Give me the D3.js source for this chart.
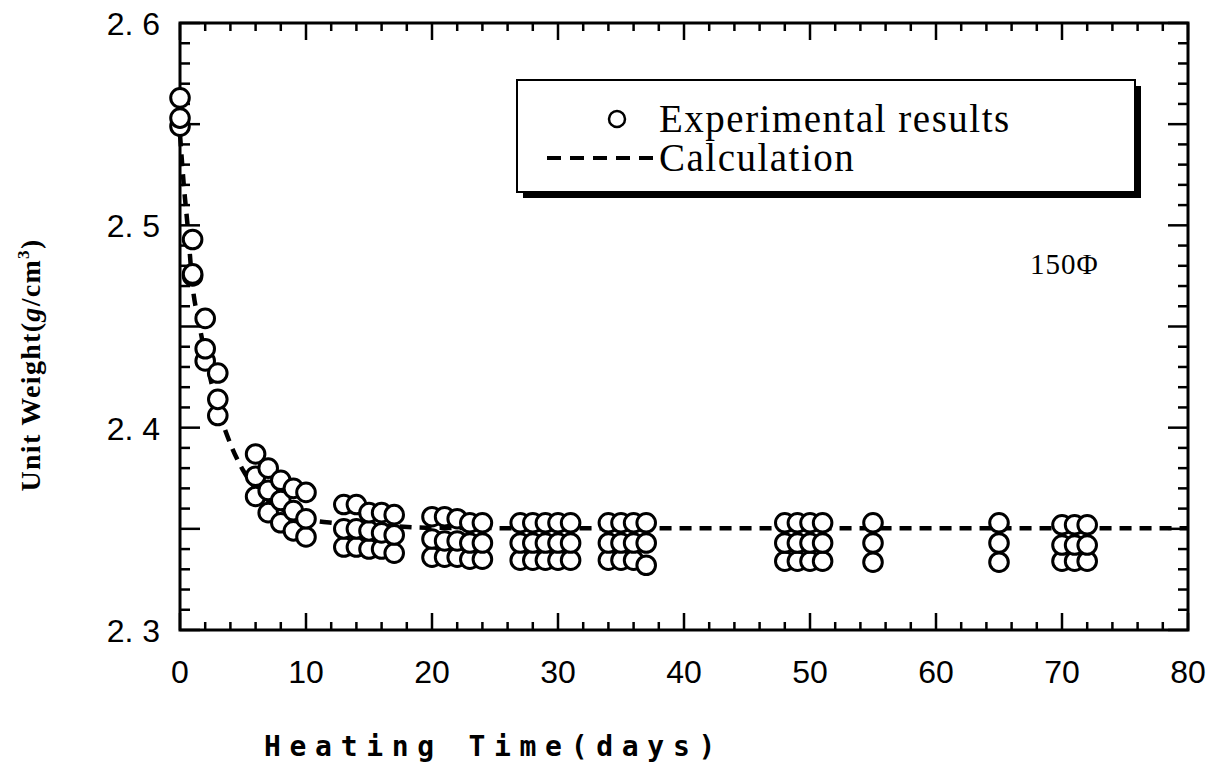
<!DOCTYPE html>
<html lang="en">
<head>
<meta charset="utf-8">
<title>Unit Weight vs Heating Time</title>
<script src="https://d3js.org/d3.v7.min.js"></script>
<style>
  body { margin: 0; background: #fff; }
  .tick-label { font-family: "Liberation Sans", Arial, sans-serif; font-size: 32px; fill: #000; }
  .legend-text { font-family: "Liberation Serif", "Times New Roman", serif; font-size: 39px; letter-spacing: 1.5px; fill: #000; }
</style>
</head>
<body>
<svg width="1217" height="767"></svg>
<script>
// experimental results: three readings per heating day
const expDays   = [0, 1, 2, 3, 6, 7, 8, 9, 10, 13, 14, 15, 16, 17, 20, 21, 22, 23, 24,
                   27, 28, 29, 30, 31, 34, 35, 36, 37, 48, 49, 50, 51, 55, 65, 70, 71, 72];
const expUpper  = [2.563, 2.493, 2.454, 2.427, 2.387, 2.380, 2.374, 2.370, 2.368,
                   2.362, 2.362, 2.358, 2.358, 2.357, 2.356, 2.356, 2.355, 2.353, 2.353,
                   2.353, 2.353, 2.353, 2.353, 2.353, 2.353, 2.353, 2.353, 2.353,
                   2.353, 2.353, 2.353, 2.353, 2.353, 2.353, 2.352, 2.352, 2.352];
const expMiddle = [2.553, 2.476, 2.439, 2.414, 2.376, 2.369, 2.364, 2.359, 2.355,
                   2.350, 2.350, 2.349, 2.348, 2.347, 2.345, 2.344, 2.344, 2.343, 2.343,
                   2.343, 2.343, 2.343, 2.343, 2.343, 2.343, 2.343, 2.343, 2.343,
                   2.343, 2.343, 2.343, 2.343, 2.343, 2.343, 2.342, 2.342, 2.342];
const expLower  = [2.549, 2.475, 2.433, 2.406, 2.366, 2.358, 2.353, 2.349, 2.346,
                   2.341, 2.341, 2.340, 2.340, 2.338, 2.336, 2.336, 2.336, 2.335, 2.335,
                   2.3345, 2.3345, 2.3345, 2.3345, 2.3345, 2.3345, 2.3345, 2.3345, 2.332,
                   2.334, 2.334, 2.334, 2.334, 2.3335, 2.3335, 2.334, 2.334, 2.334];

// calculated curve
const calcDays   = [0, 0.3, 0.6, 1, 1.5, 2, 2.5, 3, 4, 5, 6, 7, 8, 10, 12, 15, 20, 30, 50, 80];
const calcValues = [2.545, 2.52, 2.50, 2.47, 2.452, 2.436, 2.422, 2.410, 2.392, 2.379,
                    2.370, 2.364, 2.360, 2.355, 2.353, 2.352, 2.3505, 2.3503, 2.3503, 2.3503];

// axis ticks
const xTicks = [0, 10, 20, 30, 40, 50, 60, 70, 80];
const xTickLabels = ["0", "10", "20", "30", "40", "50", "60", "70", "80"];
const yTicks = [2.3, 2.4, 2.5, 2.6];
const yTickLabels = ["2. 3", "2. 4", "2. 5", "2. 6"];

const svg = d3.select("svg");
const plotL = 180, plotR = 1188, plotT = 23, plotB = 630;

const x = d3.scaleLinear().domain([0, 80]).range([plotL, plotR]);
const y = d3.scaleLinear().domain([2.3, 2.6]).range([plotB, plotT]);

// inner ticks on all four sides
const xMinor = d3.range(0, 81, 2);
const yMinor = d3.range(0, 31).map(i => 2.3 + i * 0.01);
const tickG = svg.append("g").attr("stroke", "#000").attr("stroke-width", 2.5);

xMinor.forEach(v => {
  const len = (v % 10 === 0) ? 17 : 8;
  tickG.append("line").attr("x1", x(v)).attr("x2", x(v)).attr("y1", plotB).attr("y2", plotB - len);
  tickG.append("line").attr("x1", x(v)).attr("x2", x(v)).attr("y1", plotT).attr("y2", plotT + len);
});
yMinor.forEach((v, i) => {
  const len = (i % 5 === 0) ? 20 : 10;
  tickG.append("line").attr("x1", plotL).attr("x2", plotL + len).attr("y1", y(v)).attr("y2", y(v));
  tickG.append("line").attr("x1", plotR).attr("x2", plotR - len).attr("y1", y(v)).attr("y2", y(v));
});

// frame
svg.append("rect")
  .attr("x", plotL).attr("y", plotT)
  .attr("width", plotR - plotL).attr("height", plotB - plotT)
  .attr("fill", "none").attr("stroke", "#000").attr("stroke-width", 3);

// tick labels
svg.selectAll("text.xl").data(xTicks).enter().append("text")
  .attr("class", "tick-label")
  .attr("x", d => x(d)).attr("y", 683)
  .attr("text-anchor", "middle")
  .text((d, i) => xTickLabels[i]);

svg.selectAll("text.yl").data(yTicks).enter().append("text")
  .attr("class", "tick-label")
  .attr("x", 160).attr("y", d => y(d) + 12)
  .attr("text-anchor", "end")
  .text((d, i) => yTickLabels[i]);

// axis titles
svg.append("text")
  .attr("x", 494).attr("y", 756)
  .attr("text-anchor", "middle")
  .style("font-family", "'DejaVu Sans Mono', monospace")
  .style("font-weight", "bold")
  .style("font-size", "28px")
  .style("letter-spacing", "8.7px")
  .text("Heating Time(days)");

const yTitle = svg.append("text")
  .attr("transform", "translate(40,365) rotate(-90)")
  .attr("text-anchor", "middle")
  .style("font-family", "'Liberation Serif', serif")
  .style("font-weight", "bold")
  .style("font-size", "28px")
  .style("letter-spacing", "1.3px");
yTitle.append("tspan").text("Unit Weight(");
yTitle.append("tspan").style("font-style", "italic").text("g");
yTitle.append("tspan").text("/cm");
yTitle.append("tspan").attr("dy", -11).style("font-size", "17px").text("3");
yTitle.append("tspan").attr("dy", 11).text(")");

// calculation line
const line = d3.line()
  .x((d, i) => x(calcDays[i]))
  .y(d => y(d))
  .curve(d3.curveMonotoneX);

svg.append("path")
  .datum(calcValues)
  .attr("d", line)
  .attr("fill", "none")
  .attr("stroke", "#000")
  .attr("stroke-width", 4.5)
  .attr("stroke-dasharray", "12,8");

// experimental points
const points = [];
expDays.forEach((d, i) => {
  points.push([d, expLower[i]], [d, expMiddle[i]], [d, expUpper[i]]);
});
svg.append("g").selectAll("circle").data(points).enter().append("circle")
  .attr("cx", d => x(d[0]))
  .attr("cy", d => y(d[1]))
  .attr("r", 9.3)
  .attr("fill", "#fff")
  .attr("stroke", "#000")
  .attr("stroke-width", 3);

// legend
const lg = svg.append("g");
lg.append("rect").attr("x", 523).attr("y", 86).attr("width", 618).attr("height", 112).attr("fill", "#000");
lg.append("rect").attr("x", 517).attr("y", 80).attr("width", 618).attr("height", 112)
  .attr("fill", "#fff").attr("stroke", "#000").attr("stroke-width", 2);
lg.append("circle").attr("cx", 617).attr("cy", 119).attr("r", 8)
  .attr("fill", "#fff").attr("stroke", "#000").attr("stroke-width", 2.5);
lg.append("line").attr("x1", 547).attr("x2", 657).attr("y1", 158).attr("y2", 158)
  .attr("stroke", "#000").attr("stroke-width", 4).attr("stroke-dasharray", "14,9");
lg.append("text").attr("class", "legend-text").attr("x", 659).attr("y", 132).text("Experimental results");
lg.append("text").attr("class", "legend-text").attr("x", 659).attr("y", 171).text("Calculation");

// specimen label
svg.append("text")
  .attr("x", 1030).attr("y", 274)
  .style("font-family", "'Liberation Serif', serif")
  .style("font-size", "29px")
  .style("letter-spacing", "1px")
  .text("150\u03A6");
</script>
</body>
</html>
